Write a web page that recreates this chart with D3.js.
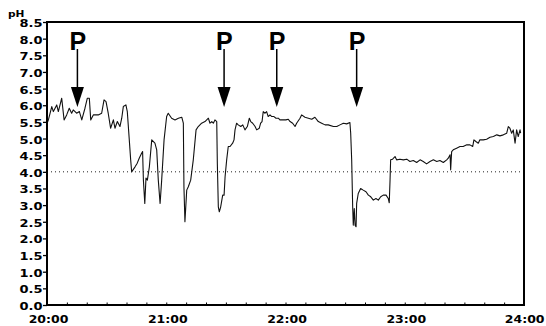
<!DOCTYPE html>
<html><head><meta charset="utf-8">
<script src="https://cdn.jsdelivr.net/npm/d3@7"></script>
<style>body{margin:0;background:#fff} svg{display:block}</style>
</head><body>
<svg id="c" width="546" height="326"></svg>
<script>
// ---- data (minutes after 20:00, pH) ----
const timeMin = [0,
 0.7, 2.4, 3.2, 4.9, 5.7, 7.4, 8.6, 9.9, 11.2, 12.4,
 13.2, 14.9, 16.3, 17.5, 19.1, 20.3, 21.3, 22.0, 23.3, 25.8,
 27.5, 28.7, 29.7, 30.8, 32.0, 33.4, 34.2, 35.4, 36.7, 37.6,
 38.4, 39.7, 40.4, 41.4, 42.1, 42.6, 44.3, 45.4, 46.4, 47.6,
 48.1, 48.5, 49.2, 49.8, 50.5, 51.5, 52.7, 54.3, 55.2, 56.0,
 56.9, 57.7, 58.9, 60.2, 61.0, 62.7, 64.4, 66.1, 67.8, 68.6,
 68.9, 69.4, 70.3, 71.1, 72.3, 73.6, 75.0, 76.1, 77.8, 79.5,
 81.2, 82.0, 82.9, 83.7, 84.5, 85.4, 85.7, 86.2, 86.7, 87.4,
 88.4, 89.1, 89.6, 90.4, 91.2, 92.1, 93.4, 94.1, 94.6, 95.4,
 96.2, 97.5, 98.5, 99.6, 100.8, 101.8, 102.5, 103.5, 104.7, 105.5,
 106.8, 107.5, 108.2, 108.8, 109.7, 110.5, 111.3, 112.2, 113.1, 114.2,
 115.2, 116.4, 117.2, 118.9, 120.2, 121.4, 122.3, 123.6, 124.8, 125.6,
 127.3, 128.1, 129.8, 131.5, 133.2, 134.8, 136.5, 138.2, 139.9, 141.5,
 144.1, 145.8, 147.4, 149.1, 150.8, 152.4, 152.8, 153.3, 153.8, 154.1,
 154.6, 155.0, 155.5, 155.8, 156.6, 157.8, 159.1, 160.5, 161.7, 162.9,
 164.2, 165.5, 166.7, 167.9, 169.2, 170.6, 171.7, 172.2, 172.6, 172.9,
 173.9, 175.1, 175.9, 177.6, 179.3, 181.0, 182.6, 184.3, 186.0, 187.7,
 189.3, 191.0, 192.7, 194.4, 196.1, 197.7, 199.4, 201.1, 201.9, 202.8,
 203.1, 203.6, 204.4, 206.1, 207.8, 209.4, 211.2, 212.8, 214.2, 214.8,
 215.8, 217.0, 217.8, 219.5, 221.2, 222.9, 224.6, 226.3, 227.9, 229.6,
 231.3, 232.1, 232.9, 233.8, 234.6, 235.5, 236.3, 237.1, 238.0, 238.3];

const phValues = [5.45,
 5.56, 5.96, 5.81, 6.01, 5.81, 6.21, 5.56, 5.71, 5.91, 5.76,
 5.86, 5.76, 5.81, 5.56, 5.91, 6.21, 6.21, 5.56, 5.71, 5.71,
 5.76, 6.16, 6.11, 5.76, 5.31, 5.56, 5.31, 5.51, 5.36, 5.61,
 5.96, 6.01, 5.81, 4.96, 4.36, 4.00, 4.15, 4.26, 4.41, 4.56,
 4.61, 3.75, 3.05, 3.81, 3.75, 4.15, 4.96, 4.86, 4.66, 3.75,
 3.05, 3.75, 4.96, 5.66, 5.76, 5.61, 5.56, 5.61, 5.64, 5.46,
 3.55, 2.50, 3.45, 3.55, 3.75, 4.36, 5.26, 5.36, 5.46, 5.51,
 5.61, 5.46, 5.51, 5.46, 5.56, 5.51, 4.26, 2.95, 2.80, 2.95,
 3.30, 3.30, 3.85, 4.36, 4.76, 4.76, 4.86, 4.96, 5.26, 5.46,
 5.41, 5.36, 5.41, 5.26, 5.36, 5.61, 5.51, 5.46, 5.36, 5.26,
 5.31, 5.46, 5.51, 5.81, 5.76, 5.81, 5.66, 5.71, 5.66, 5.66,
 5.61, 5.61, 5.56, 5.56, 5.56, 5.58, 5.51, 5.46, 5.36, 5.46,
 5.61, 5.71, 5.64, 5.61, 5.58, 5.64, 5.51, 5.46, 5.41, 5.41,
 5.36, 5.36, 5.41, 5.46, 5.44, 5.48, 5.16, 4.36, 2.95, 2.40,
 2.90, 2.40, 2.35, 3.05, 3.35, 3.50, 3.45, 3.40, 3.30, 3.25,
 3.15, 3.20, 3.15, 3.25, 3.30, 3.30, 3.20, 3.07, 3.75, 4.36,
 4.38, 4.46, 4.36, 4.38, 4.36, 4.38, 4.31, 4.34, 4.28, 4.36,
 4.31, 4.24, 4.31, 4.36, 4.31, 4.34, 4.28, 4.36, 4.41, 4.51,
 4.06, 4.61, 4.66, 4.71, 4.76, 4.76, 4.81, 4.81, 4.76, 4.96,
 4.91, 4.86, 4.96, 4.96, 4.98, 5.04, 5.06, 5.11, 5.08, 5.11,
 5.16, 5.36, 5.31, 5.16, 5.26, 4.86, 5.26, 5.06, 5.26, 5.16];

const yTickValues = [0,0.5,1,1.5,2,2.5,3,3.5,4,4.5,5,5.5,6,6.5,7,7.5,8,8.5];
const xTickMinutes = [0, 60, 120, 180, 240];
const xTickLabels = ["20:00", "21:00", "22:00", "23:00", "24:00"];
const minorTickMinutes = [0,10,20,30,40,50,60,70,80,90,100,110,120,130,140,150,160,170,180,190,200,210,220,230,240];
const referencePH = 4.0;
const arrowTimes = [15.3, 89.1, 115.6, 155.8];
const arrowLabels = ["P", "P", "P", "P"];
const arrowTipPH = 5.95;
const yAxisTitle = "pH";

// ---- layout ----
const svg = d3.select("#c");
const L = 47, R = 524, T = 22, B = 305;
const x = d3.scaleLinear().domain([0, 240]).range([L, R]);
const y = d3.scaleLinear().domain([0, 8.5]).range([B, T]);
const SX = 1.3, SXX = 1.25;
const fontAxis = "'DejaVu Sans', sans-serif";

// reference dotted line
svg.append("line")
  .attr("x1", x(0)).attr("x2", x(240))
  .attr("y1", y(referencePH)).attr("y2", y(referencePH))
  .attr("stroke", "#222").attr("stroke-width", 1)
  .attr("stroke-dasharray", "1,3");

// trace
const pts = d3.zip(timeMin, phValues);
svg.append("path")
  .datum(pts)
  .attr("fill", "none")
  .attr("stroke", "#111")
  .attr("stroke-width", 1.1)
  .attr("stroke-linejoin", "round")
  .attr("d", d3.line().x(d => x(d[0])).y(d => y(d[1])));

// y axis
const gy = svg.append("g").attr("transform", `translate(${L},0)`)
  .call(d3.axisLeft(y).tickValues(yTickValues).tickSize(4).tickFormat(d3.format(".1f")));
gy.select(".domain").remove();
gy.selectAll("line").attr("stroke", "#000").attr("stroke-width", 1.3);
gy.selectAll("text")
  .attr("x", -4.5 / SX).attr("dy", 4.5)
  .attr("transform", `scale(${SX},1)`)
  .attr("font-family", fontAxis).attr("font-weight", "bold").attr("font-size", 10)
  .attr("fill", "#000").attr("text-anchor", "end");

// x axis minor ticks (inward)
const gm = svg.append("g").attr("transform", `translate(0,${B})`)
  .call(d3.axisBottom(x).tickValues(minorTickMinutes).tickSize(-2.5).tickFormat(""));
gm.select(".domain").remove();
gm.selectAll("line").attr("stroke", "#000").attr("stroke-width", 1);

// x axis labels
const gx = svg.append("g").attr("transform", `translate(0,${B})`)
  .call(d3.axisBottom(x).tickValues(xTickMinutes).tickSize(0)
    .tickFormat((d, i) => xTickLabels[i]));
gx.select(".domain").remove();
gx.selectAll("text")
  .attr("x", (d, i) => i === xTickLabels.length - 1 ? (544 - x(d)) / SXX : 1 / SXX)
  .attr("text-anchor", (d, i) => i === xTickLabels.length - 1 ? "end" : "middle")
  .attr("y", 18.5).attr("dy", 0)
  .attr("transform", `scale(${SXX},1)`)
  .attr("font-family", fontAxis).attr("font-weight", "bold").attr("font-size", 10)
  .attr("fill", "#000");

// frame
svg.append("rect")
  .attr("x", L).attr("y", T).attr("width", R - L).attr("height", B - T)
  .attr("fill", "none").attr("stroke", "#000").attr("stroke-width", 2);

// y title
svg.append("text")
  .attr("transform", `translate(8,17) scale(1.25,1)`)
  .attr("font-family", fontAxis).attr("font-weight", "bold").attr("font-size", 8.5)
  .text(yAxisTitle);

// arrows
const tipY = y(arrowTipPH);
const ag = svg.append("g").selectAll("g").data(arrowTimes).join("g");
ag.append("line")
  .attr("x1", d => x(d)).attr("x2", d => x(d))
  .attr("y1", 49).attr("y2", tipY - 18)
  .attr("stroke", "#000").attr("stroke-width", 1.5);
ag.append("path")
  .attr("d", d => `M${x(d) - 6.5},${tipY - 20}L${x(d) + 6.5},${tipY - 20}L${x(d)},${tipY}Z`)
  .attr("fill", "#000");
ag.append("text")
  .attr("x", d => x(d) - 8).attr("y", 50)
  .attr("font-family", "'Liberation Sans', Arial, sans-serif")
  .attr("font-weight", "bold").attr("font-size", 25)
  .text((d, i) => arrowLabels[i]);
</script>
</body></html>
